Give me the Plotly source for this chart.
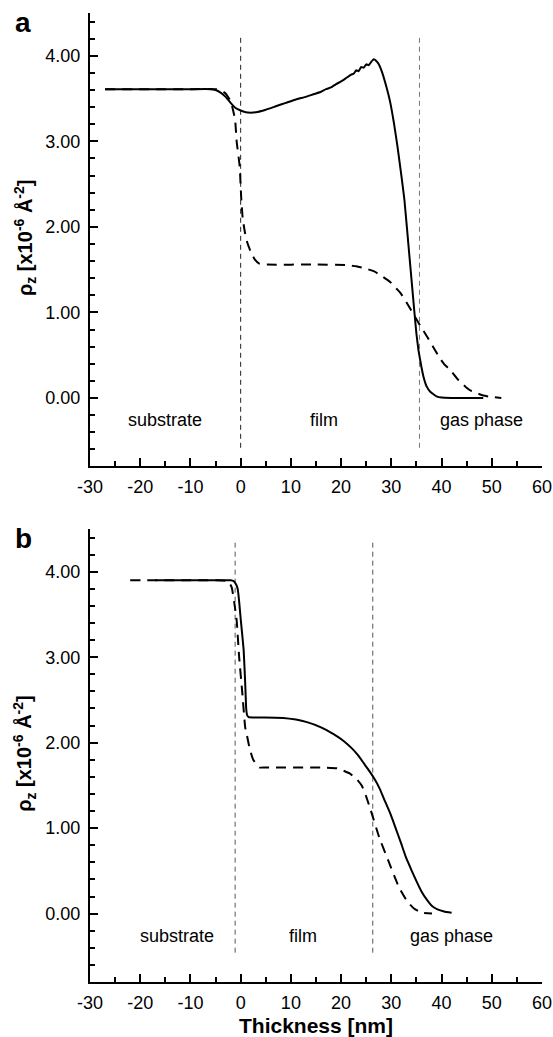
import plotly.graph_objects as go

# ---- panel a data ----
a_solid_x = [-27, -10, -6, -5, -4, -3, -2, -1, 0, 1, 2, 3, 5, 7, 9, 11, 13, 14, 15, 16, 17, 18,
             19, 20, 21, 22, 22.5, 23, 23.5, 24, 24.5, 25, 25.5, 26, 26.5, 27, 27.5, 28.2, 29,
             29.8, 30.5, 31.2, 32, 32.6, 33.6, 34.6, 35.0, 35.4, 36.0, 36.4, 37, 37.8, 39, 40, 42, 48.3]
a_solid_y = [3.61, 3.61, 3.61, 3.60, 3.57, 3.52, 3.45, 3.39, 3.36, 3.34, 3.335, 3.34, 3.37, 3.41,
             3.45, 3.49, 3.52, 3.54, 3.56, 3.58, 3.61, 3.63, 3.67, 3.70, 3.74, 3.78, 3.79, 3.83,
             3.82, 3.87, 3.86, 3.90, 3.89, 3.93, 3.96, 3.94, 3.90, 3.80, 3.64, 3.45, 3.22, 2.95,
             2.60, 2.32, 1.66, 1.00, 0.75, 0.56, 0.36, 0.25, 0.14, 0.07, 0.02, 0.005, 0.0, 0.0]

a_dash_x = [-27, -10, -5, -4, -3, -2, -1.5, -1.1, -0.8, -0.2, 0.1, 0.4, 0.9, 1.3, 2.0, 2.8, 3.7,
            5, 15, 21, 23, 24.5, 26.6, 28, 29.7, 31, 31.8, 33, 34.3, 35.7, 37.1, 38.3, 39.5,
            40.6, 41.7, 43.2, 44.8, 46, 46.9, 48.3, 49.7, 51.9]
a_dash_y = [3.61, 3.61, 3.61, 3.60, 3.56, 3.47, 3.36, 3.25, 3.00, 2.71, 2.35, 2.10, 1.92, 1.82,
            1.71, 1.62, 1.57, 1.56, 1.56, 1.555, 1.54, 1.52, 1.48, 1.43, 1.36, 1.28, 1.23, 1.12,
            0.99, 0.85, 0.72, 0.60, 0.48, 0.39, 0.33, 0.22, 0.13, 0.08, 0.06, 0.03, 0.015, 0.0]

a_bounds_x = [0, 35.6]
a_bounds_y = [4.21, -0.59]

# ---- panel b data ----
b_solid_x = [-17, -5, -2, -1.4, -0.9, -0.6, -0.3, 0, 0.3, 0.6, 0.9, 1.1, 1.3, 1.6, 3, 8.5, 11,
             13.2, 16, 18.5, 20.5, 22.2, 23.4, 24.5, 25.6, 26.6, 27.7, 28.7, 29.8, 30.8, 31.9,
             32.9, 34.0, 35.0, 36.0, 37.1, 38.1, 39.2, 40.5, 42.0]
b_solid_y = [3.90, 3.90, 3.90, 3.89, 3.85, 3.80, 3.65, 3.45, 3.27, 3.08, 2.70, 2.40, 2.32, 2.30,
             2.295, 2.29, 2.27, 2.24, 2.18, 2.10, 2.02, 1.93, 1.85, 1.76, 1.67, 1.58, 1.46, 1.32,
             1.17, 1.01, 0.83, 0.66, 0.51, 0.38, 0.26, 0.16, 0.09, 0.05, 0.025, 0.01]

b_dash_x = [-22, -5, -2.5, -1.8, -1.3, -0.8, -0.3, 0.3, 0.9, 1.2, 1.8, 2.5, 3.7, 5, 16, 19.2,
            21.7, 23, 24.1, 25, 25.9, 27.6, 29.4, 31.5, 33.2, 34.5, 36.1, 38.1]
b_dash_y = [3.90, 3.90, 3.89, 3.82, 3.65, 3.43, 3.00, 2.60, 2.18, 2.10, 1.93, 1.80, 1.71, 1.71,
            1.71, 1.70, 1.64, 1.58, 1.50, 1.37, 1.21, 0.89, 0.62, 0.31, 0.14, 0.06, 0.01, 0.0]

b_bounds_x = [-1.1, 26.3]
b_bounds_y = [4.34, -0.46]

regions = ["substrate", "film", "gas phase"]
a_region_x = [-15, 16.6, 48]
b_region_x = [-12.6, 12.4, 42]
region_y = -0.26

x_ticks = [-30, -20, -10, 0, 10, 20, 30, 40, 50, 60]
x_ticktext = ["-30", "-20", "-10", "0", "10", "20", "30", "40", "50", "60"]
y_ticks = [0, 1, 2, 3, 4]
y_ticktext = ["0.00", "1.00", "2.00", "3.00", "4.00"]

FONT = "Liberation Sans, Arial, sans-serif"

fig = go.Figure()

panels = [
    ("x", "y", a_solid_x, a_solid_y, a_dash_x, a_dash_y, a_bounds_x, a_bounds_y, ["#222222", "#777777"]),
    ("x2", "y2", b_solid_x, b_solid_y, b_dash_x, b_dash_y, b_bounds_x, b_bounds_y, ["#555555", "#555555"]),
]

for xa, ya, sx, sy, dx, dy, bx, by, bcol in panels:
    # region boundaries
    for xv, c in zip(bx, bcol):
        fig.add_trace(go.Scatter(x=[xv, xv], y=by, mode="lines", xaxis=xa, yaxis=ya,
                                 line=dict(color=c, width=1, dash="5px,4px"),
                                 showlegend=False, hoverinfo="skip"))
    fig.add_trace(go.Scatter(x=dx, y=dy, mode="lines", xaxis=xa, yaxis=ya,
                             line=dict(color="black", width=2, dash="10px,7px", shape="spline",
                                       smoothing=0.4),
                             showlegend=False))
    fig.add_trace(go.Scatter(x=sx, y=sy, mode="lines", xaxis=xa, yaxis=ya,
                             line=dict(color="black", width=2, shape="spline", smoothing=0.3),
                             showlegend=False))

xaxis_style = dict(
    range=[-30, 60], showline=True, linecolor="black", linewidth=2, showgrid=False,
    zeroline=False, ticks="inside", ticklen=8, tickwidth=1.5, tickcolor="black",
    tickvals=x_ticks, ticktext=x_ticktext, tickfont=dict(family=FONT, size=18, color="black"),
    ticklabelstandoff=3, automargin=False,
    minor=dict(dtick=5, tick0=0, ticks="inside", ticklen=5, tickwidth=1.5, tickcolor="black"),
)
yaxis_style = dict(
    range=[-0.8, 4.5], showline=True, linecolor="black", linewidth=2, showgrid=False,
    zeroline=False, ticks="inside", ticklen=8, tickwidth=1.5, tickcolor="black",
    tickvals=y_ticks, ticktext=y_ticktext, tickfont=dict(family=FONT, size=18, color="black"),
    ticklabelstandoff=4, automargin=False,
    minor=dict(dtick=0.2, tick0=0, ticks="inside", ticklen=5, tickwidth=1.5, tickcolor="black"),
)

fig.update_layout(
    width=553, height=1037, autosize=False,
    margin=dict(l=90, r=11, t=13, b=55),
    paper_bgcolor="white", plot_bgcolor="white",
    xaxis=dict(xaxis_style, anchor="y"),
    yaxis=dict(yaxis_style, domain=[0.532, 1.0], anchor="x"),
    xaxis2=dict(xaxis_style, anchor="y2"),
    yaxis2=dict(yaxis_style, domain=[0.0, 0.4675], anchor="x2"),
)

ann = []
for xa, ya, rx in [("x", "y", a_region_x), ("x2", "y2", b_region_x)]:
    for txt, xv in zip(regions, rx):
        ann.append(dict(x=xv, y=region_y, xref=xa, yref=ya, text=txt, showarrow=False,
                        xanchor="center", yanchor="middle",
                        font=dict(family=FONT, size=18, color="black")))
    ann.append(dict(x=-0.144, xref="paper", y=1.88, yref=ya, textangle=-90, showarrow=False,
                    xanchor="center", yanchor="middle",
                    text="ρ<sub>z</sub> [x10<sup>-6</sup> Å<sup>-2</sup>]",
                    font=dict(family=FONT, size=20, color="black", weight="bold")))

ann.append(dict(x=-0.148, y=0.9907, xref="paper", yref="paper", text="a", showarrow=False,
                xanchor="center", yanchor="middle",
                font=dict(family=FONT, size=28, color="black", weight="bold")))
ann.append(dict(x=-0.148, y=0.4572, xref="paper", yref="paper", text="b", showarrow=False,
                xanchor="center", yanchor="middle",
                font=dict(family=FONT, size=28, color="black", weight="bold")))
ann.append(dict(x=0.5, y=-0.0454, xref="paper", yref="paper", text="Thickness [nm]",
                xanchor="center", yanchor="middle",
                showarrow=False, font=dict(family=FONT, size=21, color="black", weight="bold")))

fig.update_layout(annotations=ann)

# drop the default page margin so the 553x1037 figure fills the window exactly
fig.write_html("out.html", config={"displayModeBar": False},
               post_script="document.body.style.margin='0';document.body.style.overflow='hidden';")
